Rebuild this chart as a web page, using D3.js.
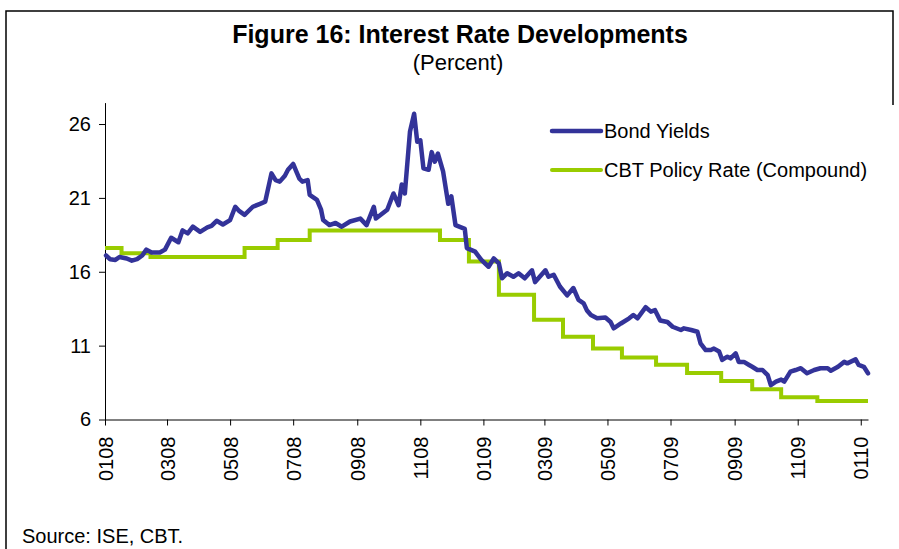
<!DOCTYPE html>
<html>
<head>
<meta charset="utf-8">
<script src="https://cdn.jsdelivr.net/npm/d3@7/dist/d3.min.js"></script>
<style>
  html, body { margin: 0; padding: 0; background: #fff; }
  svg { display: block; font-family: Arial, "Liberation Sans", sans-serif; }
</style>
</head>
<body>
<svg id="chart" width="899" height="549"></svg>
<script>
// ---- data ----
const bondDates = [
  "2008-01-02","2008-01-06","2008-01-11","2008-01-15","2008-01-22","2008-01-27","2008-02-01","2008-02-06",
  "2008-02-10","2008-02-15","2008-02-23","2008-02-28","2008-03-05","2008-03-12","2008-03-16","2008-03-21",
  "2008-03-26","2008-04-02","2008-04-09","2008-04-13","2008-04-18","2008-04-24","2008-05-01","2008-05-06",
  "2008-05-10","2008-05-15","2008-05-23","2008-05-30","2008-06-04","2008-06-10","2008-06-14","2008-06-18",
  "2008-06-23","2008-06-26","2008-07-01","2008-07-04","2008-07-07","2008-07-10","2008-07-15","2008-07-17",
  "2008-07-24","2008-07-28","2008-07-30","2008-08-05","2008-08-11","2008-08-17","2008-08-25","2008-09-04",
  "2008-09-10","2008-09-17","2008-09-19","2008-09-30","2008-10-06","2008-10-11","2008-10-14","2008-10-17",
  "2008-10-22","2008-10-26","2008-10-29","2008-11-01","2008-11-04","2008-11-09","2008-11-12","2008-11-15",
  "2008-11-18","2008-11-23","2008-11-28","2008-12-01","2008-12-05","2008-12-14","2008-12-16","2008-12-24",
  "2008-12-30","2009-01-06","2009-01-11","2009-01-16","2009-01-19","2009-01-24","2009-01-30","2009-02-04",
  "2009-02-10","2009-02-17","2009-02-20","2009-03-02","2009-03-05","2009-03-10","2009-03-16","2009-03-23",
  "2009-03-29","2009-04-03","2009-04-08","2009-04-11","2009-04-15","2009-04-21","2009-04-29","2009-05-04",
  "2009-05-07","2009-05-14","2009-05-22","2009-05-26","2009-05-30","2009-06-07","2009-06-12","2009-06-16",
  "2009-06-21","2009-06-28","2009-07-03","2009-07-11","2009-07-14","2009-07-21","2009-07-27","2009-07-30",
  "2009-08-04","2009-08-09","2009-08-12","2009-08-17","2009-08-20","2009-08-25","2009-08-28","2009-09-02",
  "2009-09-05","2009-09-10","2009-09-15","2009-09-18","2009-09-23","2009-09-28","2009-10-03","2009-10-06",
  "2009-10-11","2009-10-16","2009-10-19","2009-10-25","2009-10-30","2009-11-04","2009-11-10","2009-11-17",
  "2009-11-23","2009-11-30","2009-12-03","2009-12-10","2009-12-16","2009-12-19","2009-12-27","2009-12-30",
  "2010-01-04","2010-01-08"
];
const bondYields = [
  17.1,16.85,16.8,17.0,16.9,16.75,16.85,17.1,
  17.5,17.3,17.3,17.5,18.3,18.0,18.8,18.6,
  19.05,18.7,19.0,19.1,19.45,19.2,19.5,20.4,
  20.1,19.85,20.4,20.6,20.75,22.66,22.2,22.1,
  22.5,22.9,23.3,22.8,22.3,22.1,22.2,21.2,
  20.86,20.2,19.5,19.16,19.3,19.05,19.4,19.6,
  19.16,20.4,19.6,20.2,21.3,20.5,21.9,21.3,
  25.5,26.7,24.8,24.9,23.0,22.9,24.1,23.45,
  24.0,22.8,20.6,21.1,19.16,18.9,17.6,17.36,
  16.8,16.34,16.9,16.57,15.56,15.9,15.66,15.9,
  15.56,16.1,15.3,16.1,15.66,15.8,15.0,14.4,
  14.9,14.1,13.86,13.4,13.07,12.85,12.9,12.6,
  12.17,12.5,12.85,13.07,12.85,13.6,13.3,13.4,
  12.7,12.6,12.28,12.06,12.17,12.06,11.94,11.16,
  10.7,10.7,10.8,10.6,10.03,10.25,10.14,10.48,
  9.9,9.9,9.69,9.57,9.35,9.35,9.0,8.33,
  8.56,8.7,8.56,9.24,9.35,9.47,9.13,9.35,
  9.47,9.47,9.3,9.57,9.9,9.8,10.07,9.69,
  9.57,9.13
];
const policyDates = [
  "2008-01-01","2008-01-17","2008-02-14","2008-05-15","2008-06-16","2008-07-17","2008-11-20",
  "2008-12-18","2009-01-16","2009-02-19","2009-03-19","2009-04-17","2009-05-15","2009-06-17",
  "2009-07-17","2009-08-19","2009-09-18","2009-10-16","2009-11-20","2010-01-08"
];
const policyRates = [
  17.6,17.25,17.0,17.6,18.15,18.8,18.15,
  16.7,14.45,12.75,11.6,10.8,10.2,9.7,
  9.15,8.6,8.05,7.5,7.25,7.25
];
const yTicks = [6, 11, 16, 21, 26];
const seriesNames = ["Bond Yields", "CBT Policy Rate (Compound)"];
const seriesColors = ["#333399", "#99CC00"];
const titleText = "Figure 16: Interest Rate Developments";
const subtitleText = "(Percent)";
const sourceText = "Source: ISE, CBT.";

// ---- chart ----
(function () {
const parse = d3.timeParse("%Y-%m-%d");
const bond = bondDates.map((d, i) => ({ date: parse(d), value: bondYields[i] }));
const policy = policyDates.map((d, i) => ({ date: parse(d), value: policyRates[i] }));

const svg = d3.select("#chart");
const pLeft = 105, pRight = 868, pTop = 102.6, pBottom = 419.5;

// outer frame (left, top and upper part of right edge)
svg.append("path")
  .attr("d", "M6,560 L6,11 L893,11 L893,105")
  .attr("fill", "none").attr("stroke", "#000").attr("stroke-width", 1.5);

const x = d3.scaleTime()
  .domain([parse("2008-01-01"), parse("2010-01-08")])
  .range([pLeft, pRight]);
const y = d3.scaleLinear().domain([6, 27.45]).range([pBottom, pTop]);

// title
svg.append("text").attr("x", 460).attr("y", 43).attr("text-anchor", "middle")
  .attr("font-size", 25).attr("font-weight", "bold").attr("fill", "#000").text(titleText);
svg.append("text").attr("x", 458).attr("y", 70).attr("text-anchor", "middle")
  .attr("font-size", 22).attr("fill", "#000").text(subtitleText);

// y axis
const yAxis = svg.append("g").attr("transform", `translate(${pLeft},0)`)
  .call(d3.axisLeft(y).tickValues(yTicks).tickSize(6).tickPadding(8).tickSizeOuter(0));
yAxis.select(".domain").attr("stroke", "#000");
yAxis.selectAll(".tick line").attr("stroke", "#000");
yAxis.selectAll(".tick text").attr("font-size", 20).attr("fill", "#000")
  .attr("font-family", "Arial, 'Liberation Sans', sans-serif");

// x axis
const xTicks = d3.timeMonth.range(parse("2008-01-01"), parse("2010-01-02"), 2);
const xAxis = svg.append("g").attr("transform", `translate(0,${pBottom})`)
  .call(d3.axisBottom(x).tickValues(xTicks).tickFormat(d3.timeFormat("%m%y"))
    .tickSize(6).tickSizeOuter(0));
xAxis.select(".domain").attr("stroke", "#000");
xAxis.selectAll(".tick line").attr("stroke", "#000");
xAxis.selectAll(".tick text")
  .attr("font-size", 20).attr("fill", "#000")
  .attr("font-family", "Arial, 'Liberation Sans', sans-serif")
  .attr("text-anchor", "end")
  .attr("transform", "rotate(-90)")
  .attr("x", -17).attr("y", 0).attr("dy", "0.35em");

// lines
svg.append("path").datum(policy)
  .attr("d", d3.line().x(d => x(d.date)).y(d => y(d.value)).curve(d3.curveStepAfter))
  .attr("fill", "none").attr("stroke", seriesColors[1]).attr("stroke-width", 4);
svg.append("path").datum(bond)
  .attr("d", d3.line().x(d => x(d.date)).y(d => y(d.value)))
  .attr("fill", "none").attr("stroke", seriesColors[0]).attr("stroke-width", 4.5)
  .attr("stroke-linejoin", "round").attr("stroke-linecap", "round");

// legend
const legendY = [131, 170];
seriesNames.forEach((name, i) => {
  svg.append("line").attr("x1", 552).attr("x2", 601)
    .attr("y1", legendY[i]).attr("y2", legendY[i])
    .attr("stroke", seriesColors[i]).attr("stroke-width", i === 0 ? 4.5 : 4)
    .attr("stroke-linecap", "round");
  svg.append("text").attr("x", 604).attr("y", legendY[i] + 7)
    .attr("font-size", 20).attr("fill", "#000").text(name);
});

// source
svg.append("text").attr("x", 22).attr("y", 543).attr("font-size", 20)
  .attr("fill", "#000").text(sourceText);
})();
</script>
</body>
</html>
